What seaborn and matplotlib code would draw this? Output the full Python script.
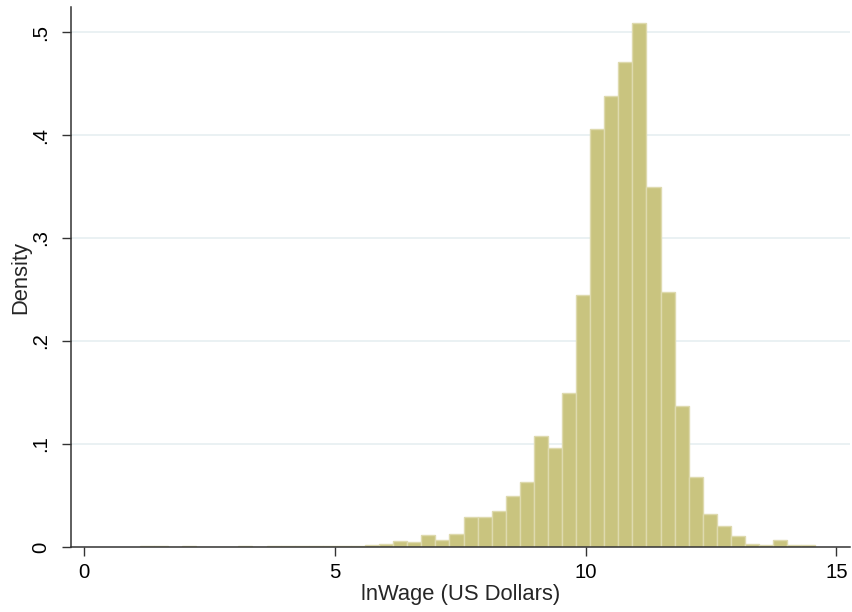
import numpy as np
import pandas as pd
import matplotlib
matplotlib.use("Agg")
import matplotlib.pyplot as plt
import seaborn as sns

# Histogram of log wages: 48 equal-width bins, heights are densities
bin_start = 1.11
bin_width = 0.2806
density = [
    0.001, 0.001, 0.000, 0.001, 0.000, 0.000, 0.000, 0.001,
    0.000, 0.001, 0.001, 0.001, 0.001, 0.001, 0.001, 0.001,
    0.002, 0.003, 0.0055, 0.005, 0.0115, 0.007, 0.013, 0.029,
    0.029, 0.035, 0.050, 0.063, 0.1075, 0.0965, 0.1495, 0.245,
    0.4056, 0.438, 0.4713, 0.5087, 0.3494, 0.2476, 0.1373, 0.068,
    0.032, 0.020, 0.0105, 0.003, 0.002, 0.007, 0.0015, 0.0015,
]
x_ticks = [0, 5, 10, 15]
x_tick_labels = ["0", "5", "10", "15"]
y_ticks = [0, 0.1, 0.2, 0.3, 0.4, 0.5]
y_tick_labels = ["0", ".1", ".2", ".3", ".4", ".5"]

n_bins = len(density)
bin_end = bin_start + bin_width * n_bins
centers = bin_start + bin_width * (np.arange(n_bins) + 0.5)
df = pd.DataFrame({"lnwage": centers, "density": density})

sns.set_theme(style="white")
plt.rcParams["font.family"] = ["Liberation Sans", "DejaVu Sans"]

fig = plt.figure(figsize=(8.52, 6.12), dpi=100)
ax = fig.add_axes([70.7 / 852, 1 - 547 / 612, (850 - 70.7) / 852, (547 - 7.3) / 612])

sns.histplot(
    data=df, x="lnwage", weights="density", bins=n_bins,
    binrange=(bin_start, bin_end), stat="count",
    color="#C9C47F", edgecolor="#DEDAAE", linewidth=1.0, alpha=1.0, ax=ax,
)

ax.set_xlim(-0.27, 15.27)
ax.set_ylim(0, 0.524)

for y in y_ticks[1:]:
    ax.axhline(y, color="#E8F0F2", linewidth=1.3, zorder=0)

ax.set_xticks(x_ticks, x_tick_labels)
ax.set_yticks(y_ticks, y_tick_labels)
ax.tick_params(axis="both", which="major", direction="out", length=6.5,
               width=1.0, color="#333333", labelsize=14.6, labelcolor="black",
               bottom=True, left=True)
ax.tick_params(axis="x", pad=5)
ax.tick_params(axis="y", pad=8, labelrotation=90)
for lbl in ax.get_yticklabels():
    lbl.set_va("center")
    lbl.set_ha("right")

for side in ["top", "right"]:
    ax.spines[side].set_visible(False)
for side in ["left", "bottom"]:
    ax.spines[side].set_color("#333333")
    ax.spines[side].set_linewidth(1.1)

ax.set_xlabel("lnWage (US Dollars)", fontsize=15.8, labelpad=1.5)
ax.set_ylabel("Density", fontsize=15.8, labelpad=0)
ax.grid(False)

fig.savefig("out.png", dpi=100)
